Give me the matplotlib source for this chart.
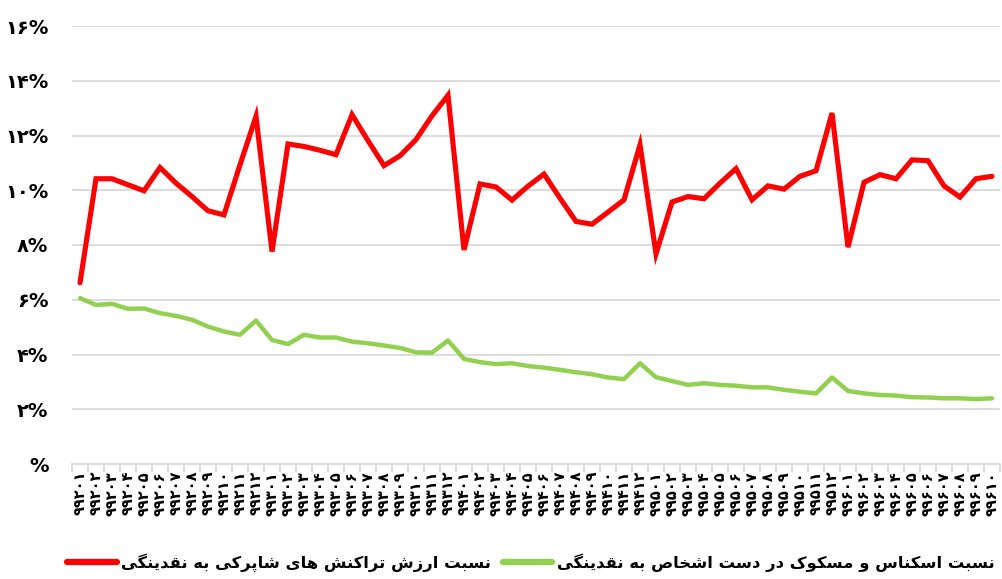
import matplotlib
matplotlib.use("Agg")
import matplotlib.pyplot as plt
from matplotlib.lines import Line2D
import numpy as np

# ---------------- data ----------------
years = ["92", "93", "94", "95", "96"]
months = ["01", "02", "03", "04", "05", "06", "07", "08", "09", "10", "11", "12"]
n_points = 58  # 1392/01 .. 1396/10

red_values = [6.62, 10.42, 10.42, 10.20, 9.98, 10.83, 10.26, 9.77, 9.25, 9.10, 10.93, 12.70,
              7.76, 11.69, 11.60, 11.46, 11.30, 12.76, 11.81, 10.90, 11.26, 11.85, 12.72, 13.47,
              7.82, 10.23, 10.12, 9.64, 10.15, 10.59, 9.71, 8.86, 8.76, 9.20, 9.65, 11.66,
              7.68, 9.57, 9.77, 9.69, 10.26, 10.79, 9.65, 10.16, 10.04, 10.51, 10.71, 12.82,
              7.92, 10.29, 10.57, 10.42, 11.11, 11.08, 10.16, 9.75, 10.42, 10.51]

green_values = [6.06, 5.81, 5.85, 5.67, 5.68, 5.51, 5.41, 5.27, 5.02, 4.84, 4.72, 5.24,
                4.53, 4.38, 4.72, 4.62, 4.62, 4.47, 4.41, 4.33, 4.24, 4.08, 4.07, 4.51,
                3.84, 3.72, 3.65, 3.68, 3.58, 3.52, 3.44, 3.35, 3.28, 3.16, 3.10, 3.68,
                3.17, 3.03, 2.89, 2.95, 2.89, 2.86, 2.80, 2.80, 2.71, 2.64, 2.58, 3.16,
                2.67, 2.58, 2.52, 2.50, 2.44, 2.43, 2.40, 2.40, 2.37, 2.40]

red_label = "نسبت ارزش تراکنش های شاپرکی به نقدینگی"
green_label = "نسبت اسکناس و مسکوک در دست اشخاص به نقدینگی"

y_ticks = [0, 2, 4, 6, 8, 10, 12, 14, 16]

# ---------------- helpers ----------------
FA_DIGITS = str.maketrans("0123456789", "۰۱۲۳۴۵۶۷۸۹")

def fa(s):
    return str(s).translate(FA_DIGITS)

# (isolated, final, initial, medial); right-joining letters have no initial/medial
FORMS = {
    "ا": (0xFE8D, 0xFE8E, None, None),
    "آ": (0xFE81, 0xFE82, None, None),
    "ب": (0xFE8F, 0xFE90, 0xFE91, 0xFE92),
    "پ": (0xFB56, 0xFB57, 0xFB58, 0xFB59),
    "ت": (0xFE95, 0xFE96, 0xFE97, 0xFE98),
    "ث": (0xFE99, 0xFE9A, 0xFE9B, 0xFE9C),
    "ج": (0xFE9D, 0xFE9E, 0xFE9F, 0xFEA0),
    "چ": (0xFB7A, 0xFB7B, 0xFB7C, 0xFB7D),
    "ح": (0xFEA1, 0xFEA2, 0xFEA3, 0xFEA4),
    "خ": (0xFEA5, 0xFEA6, 0xFEA7, 0xFEA8),
    "د": (0xFEA9, 0xFEAA, None, None),
    "ذ": (0xFEAB, 0xFEAC, None, None),
    "ر": (0xFEAD, 0xFEAE, None, None),
    "ز": (0xFEAF, 0xFEB0, None, None),
    "ژ": (0xFB8A, 0xFB8B, None, None),
    "س": (0xFEB1, 0xFEB2, 0xFEB3, 0xFEB4),
    "ش": (0xFEB5, 0xFEB6, 0xFEB7, 0xFEB8),
    "ص": (0xFEB9, 0xFEBA, 0xFEBB, 0xFEBC),
    "ض": (0xFEBD, 0xFEBE, 0xFEBF, 0xFEC0),
    "ط": (0xFEC1, 0xFEC2, 0xFEC3, 0xFEC4),
    "ظ": (0xFEC5, 0xFEC6, 0xFEC7, 0xFEC8),
    "ع": (0xFEC9, 0xFECA, 0xFECB, 0xFECC),
    "غ": (0xFECD, 0xFECE, 0xFECF, 0xFED0),
    "ف": (0xFED1, 0xFED2, 0xFED3, 0xFED4),
    "ق": (0xFED5, 0xFED6, 0xFED7, 0xFED8),
    "ک": (0xFB8E, 0xFB8F, 0xFB90, 0xFB91),
    "گ": (0xFB92, 0xFB93, 0xFB94, 0xFB95),
    "ل": (0xFEDD, 0xFEDE, 0xFEDF, 0xFEE0),
    "م": (0xFEE1, 0xFEE2, 0xFEE3, 0xFEE4),
    "ن": (0xFEE5, 0xFEE6, 0xFEE7, 0xFEE8),
    "ه": (0xFEE9, 0xFEEA, 0xFEEB, 0xFEEC),
    "و": (0xFEED, 0xFEEE, None, None),
    "ی": (0xFBFC, 0xFBFD, 0xFBFE, 0xFBFF),
}

def shape_rtl(text):
    """Contextual shaping + visual (right-to-left) ordering for Persian text."""
    out = []
    for i, c in enumerate(text):
        if c not in FORMS:
            out.append(c)
            continue
        forms = FORMS[c]
        prev = text[i - 1] if i > 0 else None
        nxt = text[i + 1] if i + 1 < len(text) else None
        join_prev = prev in FORMS and FORMS[prev][2] is not None
        join_next = nxt in FORMS and forms[2] is not None
        if join_prev and join_next:
            f = forms[3]
        elif join_prev:
            f = forms[1]
        elif join_next:
            f = forms[2]
        else:
            f = forms[0]
        out.append(chr(f))
    return "".join(reversed(out))

x_labels = [fa("9" + y + m) for y in years for m in months][:n_points]

# ---------------- plot ----------------
plt.rcParams["font.family"] = ["DejaVu Sans"]
fig = plt.figure(figsize=(10.02, 5.79), dpi=100)
ax = fig.add_axes([72 / 1002, 1 - 464 / 579, 928 / 1002, (464 - 26) / 579])

x = np.arange(n_points)
ax.plot(x, green_values, color="#92D050", lw=3.2, solid_joinstyle="round",
        solid_capstyle="round", zorder=3)
ax.plot(x, red_values, color="#FF0000", lw=3.7, solid_joinstyle="miter",
        solid_capstyle="round", zorder=4)

ax.set_xlim(-0.5, n_points - 0.5)
ax.set_ylim(0, 16)

ax.set_yticks(y_ticks)
ax.set_yticklabels([fa(v) + "%" if v else "%" for v in y_ticks],
                   fontsize=14, fontweight="bold")
ax.yaxis.grid(True, color="#d9d9d9", lw=1.3)
ax.set_axisbelow(True)
ax.tick_params(axis="y", length=0, pad=17)

ax.set_xticks(x)
ax.set_xticklabels(x_labels, rotation=90, fontsize=10.5, fontweight="bold",
                   va="top", ha="center")
ax.set_xticks(np.arange(-0.5, n_points, 1), minor=True)
ax.tick_params(axis="x", which="major", length=0, pad=5)
ax.tick_params(axis="x", which="minor", length=6, color="#d9d9d9", width=1.3)

for s in ["top", "right", "left"]:
    ax.spines[s].set_visible(False)
ax.spines["bottom"].set_color("#d9d9d9")
ax.spines["bottom"].set_linewidth(1.3)

handles = [Line2D([], [], color="#FF0000", lw=4.5, solid_capstyle="round"),
           Line2D([], [], color="#92D050", lw=4.5, solid_capstyle="round")]
fig.legend(handles, [shape_rtl(red_label), shape_rtl(green_label)],
           loc="center", bbox_to_anchor=(0.530, 1 - 563 / 579), ncol=2,
           frameon=False, prop={"size": 11.8, "weight": "bold"},
           handlelength=3.0, handletextpad=0.3, columnspacing=0.7,
           borderpad=0.0, borderaxespad=0.0)

fig.savefig("out.png", dpi=100)
